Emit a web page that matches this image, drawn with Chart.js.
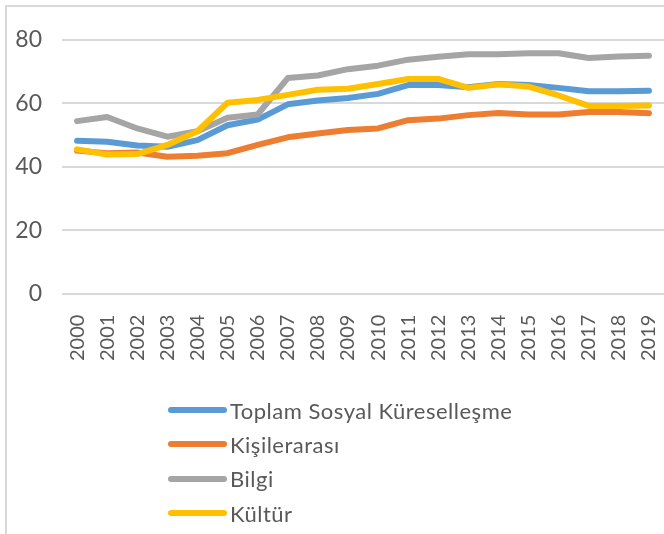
<!DOCTYPE html>
<html>
<head>
<meta charset="utf-8">
<script src="https://cdn.jsdelivr.net/npm/chart.js@4"></script>
<style>
  html, body { margin: 0; padding: 0; background: #fff; overflow: hidden; }
  #wrap { position: relative; width: 664px; height: 534px; overflow: hidden; }
  #frame { position: absolute; left: 5px; top: 5px; width: 800px; height: 800px; border: 2px solid #d9d9d9; box-sizing: border-box; }
  #c { position: absolute; left: 0; top: 0; }
  #legend { position: absolute; left: 168px; top: 393px; font-family: Lato, "Open Sans", sans-serif; font-size: 22px; letter-spacing: 0.5px; color: #595959; }
  .item { display: flex; align-items: center; height: 34.3px; }
  .sw { width: 59px; height: 6px; border-radius: 3px; margin-right: 3px; }
</style>
</head>
<body>
<div id="wrap">
  <div id="frame"></div>
  <canvas id="c" width="664" height="534"></canvas>
  <div id="legend"></div>
</div>
<script>
const years = ["2000","2001","2002","2003","2004","2005","2006","2007","2008","2009","2010","2011","2012","2013","2014","2015","2016","2017","2018","2019"];
const seriesNames = ["Toplam Sosyal Küreselleşme", "Kişilerarası", "Bilgi", "Kültür"];
const toplam  = [48.2, 47.9, 46.7, 46.3, 48.4, 53.1, 54.9, 59.7, 60.9, 61.7, 63.0, 65.8, 65.8, 65.1, 66.1, 65.8, 64.9, 63.8, 63.8, 64.0];
const kisiler = [45.1, 44.3, 44.5, 43.2, 43.5, 44.3, 46.9, 49.3, 50.5, 51.6, 52.1, 54.7, 55.2, 56.3, 57.0, 56.5, 56.5, 57.3, 57.3, 56.9];
const bilgi   = [54.4, 55.7, 52.1, 49.5, 51.2, 55.5, 56.5, 68.0, 68.8, 70.8, 71.9, 73.8, 74.7, 75.5, 75.5, 75.8, 75.8, 74.3, 74.8, 75.0];
const kultur  = [45.5, 43.9, 44.0, 46.9, 51.2, 60.2, 61.1, 62.7, 64.3, 64.6, 66.1, 67.7, 67.7, 64.9, 66.0, 65.3, 62.5, 59.2, 59.2, 59.3];
const yTicks = [0, 20, 40, 60, 80];

const colors = ["#5B9BD5", "#ED7D31", "#A5A5A5", "#FFC000"];
const values = [toplam, kisiler, bilgi, kultur];

const datasets = seriesNames.map((name, i) => ({
  label: name,
  data: values[i],
  borderColor: colors[i],
  backgroundColor: colors[i],
  borderWidth: 6,
  pointRadius: 0,
  tension: 0,
  borderCapStyle: 'round',
  borderJoinStyle: 'round',
  order: seriesNames.length - i
}));

const chart = new Chart(document.getElementById('c'), {
  type: 'line',
  data: { labels: years, datasets },
  options: {
    responsive: false,
    animation: false,
    layout: { padding: { left: 0, right: 0, top: 40, bottom: 160 } },
    plugins: { legend: { display: false }, tooltip: { enabled: false } },
    scales: {
      x: {
        offset: true,
        grid: { display: false },
        border: { display: false },
        afterFit: (axis) => { axis.paddingLeft = 0; axis.paddingRight = 0; },
        ticks: {
          color: '#595959',
          font: { family: 'Lato, "Open Sans", sans-serif', size: 20 },
          minRotation: 90, maxRotation: 90,
          padding: 13,
          autoSkip: false
        }
      },
      y: {
        min: 0, max: 80,
        afterBuildTicks: (axis) => { axis.ticks = yTicks.map(v => ({ value: v })); },
        afterFit: (axis) => { axis.width = 62; },
        grid: { color: '#d9d9d9', lineWidth: 2, drawTicks: false },
        border: { display: false },
        ticks: {
          color: '#595959',
          font: { family: 'Lato, "Open Sans", sans-serif', size: 23 },
          padding: 20
        }
      }
    }
  }
});

const legend = document.getElementById('legend');
chart.data.datasets.forEach(ds => {
  const row = document.createElement('div');
  row.className = 'item';
  const sw = document.createElement('span');
  sw.className = 'sw';
  sw.style.background = ds.borderColor;
  const tx = document.createElement('span');
  tx.textContent = ds.label;
  row.appendChild(sw);
  row.appendChild(tx);
  legend.appendChild(row);
});
</script>
</body>
</html>
